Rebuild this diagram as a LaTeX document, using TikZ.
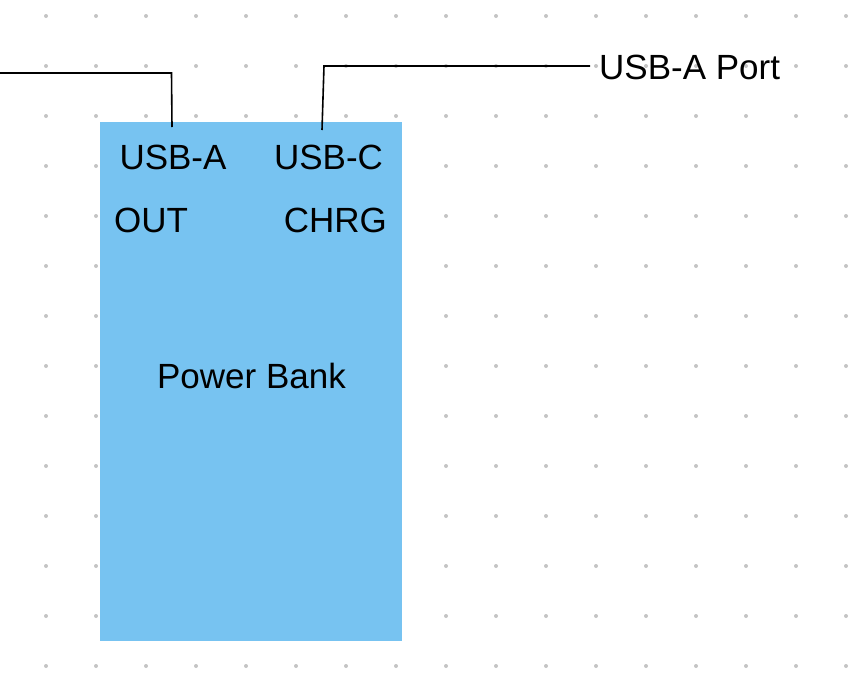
\documentclass[tikz,border=0pt]{standalone}
\usepackage{fontspec}
\setmainfont{Liberation Sans}
\definecolor{boxblue}{HTML}{77C3F1}
\definecolor{dotgray}{HTML}{C4C4C4}
\begin{document}
\begin{tikzpicture}[x=1pt,y=-1pt,
  lbl/.style={font=\fontsize{35}{42}\selectfont, inner sep=0pt, text=black},
  wire/.style={draw=black, line width=1.6pt, line join=miter},
  griddot/.style={fill=dotgray, draw=none}]
\useasboundingbox (0,0) rectangle (860,686);
\fill[white] (0,0) rectangle (860,686);
\foreach \i in {0,...,16}{
  \foreach \j in {0,...,13}{
    \fill[griddot] (46+50*\i,16+50*\j) circle (2);
  }
}
\node[fill=boxblue, draw=none, minimum width=302pt, minimum height=519pt, inner sep=0pt, anchor=north west] (pb) at (100,122) {};
\node[lbl, anchor=base] (usba) at (173,169) {USB-A};
\node[lbl, anchor=base] (usbc) at (328.5,169) {USB-C};
\node[lbl, anchor=base west] (out) at (114,232) {OUT};
\node[lbl, anchor=base east] (chrg) at (387,232) {CHRG};
\node[lbl, anchor=base] (pbl) at (251.5,388) {Power Bank};
\node[lbl, anchor=base west] (port) at (599,79) {USB-A Port};
\coordinate (lfree) at (0,73);
\coordinate (ltop) at (171.5,73);
\coordinate (lend) at (172,127);
\coordinate (rend) at (322,130);
\coordinate (rtop) at (324,66);
\draw[wire] (lfree) -- (ltop) -- (lend);
\draw[wire] (rend) -- (rtop) -- ([xshift=-9pt]port.west |- rtop);
\end{tikzpicture}
\end{document}
